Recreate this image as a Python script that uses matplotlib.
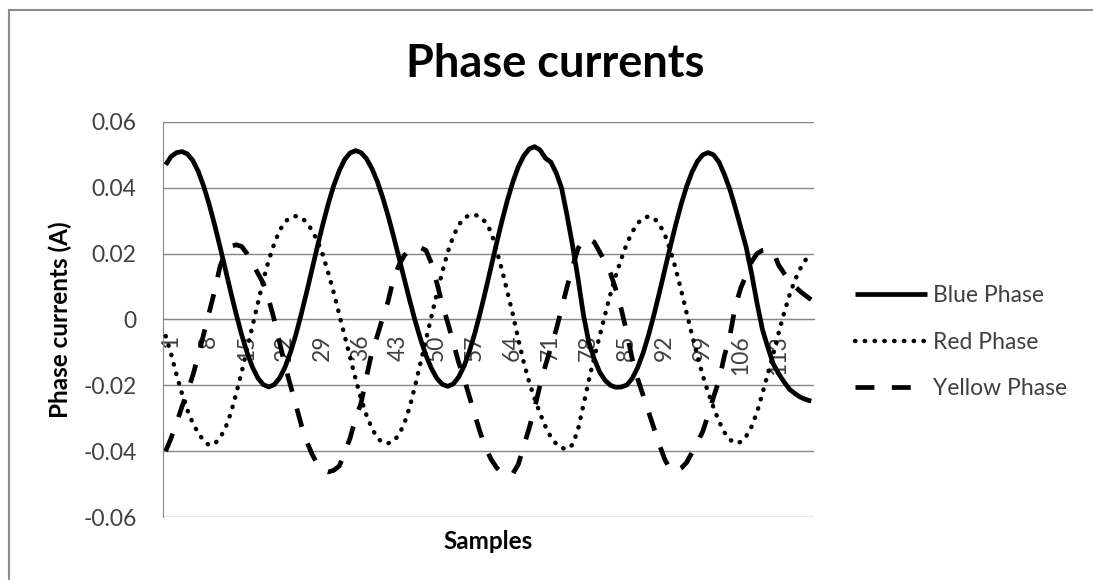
import matplotlib.pyplot as plt
from matplotlib.patches import Rectangle
from matplotlib.transforms import ScaledTranslation

# phase currents sampled over ~4 cycles
samples = list(range(1, 121))

blue = [
    0.0470, 0.0495, 0.0507, 0.0510, 0.0503, 0.0483, 0.0450, 0.0405, 0.0351, 0.0289,
    0.0222, 0.0153, 0.0083, 0.0016, -0.0046, -0.0100, -0.0145, -0.0178, -0.0198, -0.0205,
    -0.0198, -0.0178, -0.0145, -0.0100, -0.0046, 0.0017, 0.0084, 0.0154, 0.0224, 0.0291,
    0.0353, 0.0408, 0.0452, 0.0486, 0.0506, 0.0513, 0.0507, 0.0489, 0.0459, 0.0420,
    0.0371, 0.0315, 0.0253, 0.0188, 0.0122, 0.0057, -0.0005, -0.0061, -0.0110, -0.0149,
    -0.0179, -0.0197, -0.0203, -0.0196, -0.0175, -0.0142, -0.0096, -0.0041, 0.0022, 0.0090,
    0.0161, 0.0232, 0.0300, 0.0363, 0.0418, 0.0464, 0.0497, 0.0518, 0.0525, 0.0515,
    0.0490, 0.0478, 0.0445, 0.0398, 0.0315, 0.0225, 0.0125, 0.0015, -0.0070, -0.0120,
    -0.0160, -0.0185, -0.0200, -0.0206, -0.0205, -0.0199, -0.0179, -0.0146, -0.0102, -0.0048,
    0.0014, 0.0081, 0.0151, 0.0220, 0.0287, 0.0349, 0.0403, 0.0447, 0.0480, 0.0500,
    0.0507, 0.0500, 0.0478, 0.0440, 0.0395, 0.0340, 0.0280, 0.0220, 0.0140, 0.0050,
    -0.0030, -0.0085, -0.0135, -0.0165, -0.0190, -0.0212, -0.0225, -0.0236, -0.0243, -0.0248,
]

red = [
    -0.0050, -0.0105, -0.0168, -0.0225, -0.0275, -0.0315, -0.0345, -0.0368, -0.0382, -0.0378,
    -0.0360, -0.0330, -0.0285, -0.0225, -0.0160, -0.0090, -0.0020, 0.0050, 0.0120, 0.0180,
    0.0230, 0.0270, 0.0297, 0.0310, 0.0314, 0.0310, 0.0295, 0.0270, 0.0238, 0.0195,
    0.0140, 0.0080, 0.0015, -0.0050, -0.0115, -0.0180, -0.0240, -0.0290, -0.0330, -0.0360,
    -0.0374, -0.0376, -0.0370, -0.0350, -0.0315, -0.0265, -0.0200, -0.0130, -0.0060, 0.0010,
    0.0080, 0.0145, 0.0205, 0.0252, 0.0287, 0.0308, 0.0317, 0.0318, 0.0312, 0.0295,
    0.0265, 0.0210, 0.0150, 0.0083, 0.0015, -0.0060, -0.0130, -0.0190, -0.0240, -0.0285,
    -0.0325, -0.0357, -0.0378, -0.0390, -0.0394, -0.0380, -0.0335, -0.0260, -0.0185, -0.0115,
    -0.0050, 0.0015, 0.0078, 0.0135, 0.0185, 0.0230, 0.0266, 0.0292, 0.0308, 0.0313,
    0.0308, 0.0290, 0.0258, 0.0212, 0.0155, 0.0090, 0.0022, -0.0045, -0.0110, -0.0170,
    -0.0222, -0.0268, -0.0310, -0.0343, -0.0365, -0.0376, -0.0372, -0.0355, -0.0325, -0.0282,
    -0.0225, -0.0165, -0.0105, -0.0040, 0.0020, 0.0075, 0.0120, 0.0155, 0.0182, 0.0200,
]

yellow = [
    -0.0400, -0.0360, -0.0315, -0.0265, -0.0220, -0.0170, -0.0110, -0.0045, 0.0020, 0.0085,
    0.0160, 0.0205, 0.0222, 0.0227, 0.0222, 0.0200, 0.0170, 0.0140, 0.0110, 0.0060,
    0.0000, -0.0070, -0.0140, -0.0200, -0.0260, -0.0320, -0.0370, -0.0410, -0.0440, -0.0458,
    -0.0463, -0.0458, -0.0445, -0.0405, -0.0360, -0.0300, -0.0255, -0.0175, -0.0100, -0.0050,
    0.0005, 0.0055, 0.0125, 0.0165, 0.0195, 0.0212, 0.0220, 0.0218, 0.0210, 0.0170,
    0.0110, 0.0045, -0.0010, -0.0070, -0.0130, -0.0180, -0.0235, -0.0290, -0.0345, -0.0390,
    -0.0425, -0.0450, -0.0467, -0.0475, -0.0468, -0.0440, -0.0385, -0.0330, -0.0270, -0.0200,
    -0.0140, -0.0085, -0.0030, 0.0035, 0.0100, 0.0160, 0.0215, 0.0243, 0.0245, 0.0235,
    0.0205, 0.0175, 0.0140, 0.0090, 0.0030, -0.0040, -0.0120, -0.0180, -0.0230, -0.0280,
    -0.0330, -0.0380, -0.0425, -0.0455, -0.0462, -0.0452, -0.0435, -0.0405, -0.0375, -0.0340,
    -0.0290, -0.0235, -0.0185, -0.0110, -0.0050, 0.0040, 0.0095, 0.0135, 0.0175, 0.0200,
    0.0210, 0.0213, 0.0205, 0.0165, 0.0140, 0.0118, 0.0100, 0.0085, 0.0072, 0.0060,
]

y_ticks = [-0.06, -0.04, -0.02, 0, 0.02, 0.04, 0.06]
y_labels = ['-0.06', '-0.04', '-0.02', '0', '0.02', '0.04', '0.06']
x_ticks = samples[:113:7]

plt.rcParams['font.family'] = ['Lato', 'DejaVu Sans']

grid_c = '#868686'
text_c = '#404040'

fig = plt.figure(figsize=(10.93, 5.8), dpi=100)
ax = fig.add_axes([0.1491, 0.1086, 0.5956, 0.6811])

ax.plot(samples, blue, color='black', lw=3.4, solid_joinstyle='round',
        solid_capstyle='butt', label='Blue Phase', zorder=3)
ax.plot(samples, red, color='black', lw=3.2, linestyle=(0, (0.1, 2.1)),
        dash_capstyle='round', label='Red Phase', zorder=3)
ax.plot(samples, yellow, color='black', lw=3.4, linestyle=(0, (4, 3.7)),
        dash_capstyle='butt', label='Yellow Phase', zorder=3)

ax.set_xlim(0.5, 120.5)
ax.set_ylim(-0.06, 0.06)
ax.set_yticks(y_ticks, y_labels)
ax.yaxis.grid(True, color=grid_c, lw=1)
ax.set_axisbelow(True)

for side in ['top', 'right']:
    ax.spines[side].set_visible(False)
ax.spines['left'].set_color(grid_c)
ax.spines['bottom'].set_position(('data', 0))
ax.spines['bottom'].set_color(grid_c)

# category labels sit just under the zero line
ax.set_xticks(x_ticks, [str(s) for s in x_ticks], rotation=90)
ax.tick_params(axis='x', length=0, pad=11, labelsize=16.5, labelcolor=text_c)
ax.tick_params(axis='y', length=0, pad=19, labelsize=16.5, labelcolor=text_c)
shift = ScaledTranslation(0.05, 0, fig.dpi_scale_trans)
for lbl in ax.get_xticklabels():
    lbl.set_transform(lbl.get_transform() + shift)

ax.set_xlabel('Samples', fontsize=17.5, fontweight='bold', va='center')
ax.xaxis.set_label_coords(0.5, -0.061)
ax.set_ylabel('Phase currents (A)', fontsize=17.5, fontweight='bold', va='center')
ax.yaxis.set_label_coords(-0.157, 0.5)

fig.text(0.508, 0.8678, 'Phase currents', ha='center', va='baseline',
         fontsize=32.5, fontweight='bold')

ax.legend(loc='center left', bbox_to_anchor=(855 / 1093, 0.4103),
          bbox_transform=fig.transFigure, frameon=False, fontsize=16.5,
          labelcolor=text_c, handlelength=3.14, handletextpad=0.26,
          labelspacing=1.11, borderpad=0, borderaxespad=0)

# chart border (top and left edges visible)
fig.patches.append(Rectangle((9 / 1093, -0.1), 1.2, 1.0828, transform=fig.transFigure,
                             fill=False, edgecolor='#8c8c8c', lw=1.5))

fig.savefig('out.png', dpi=100)
